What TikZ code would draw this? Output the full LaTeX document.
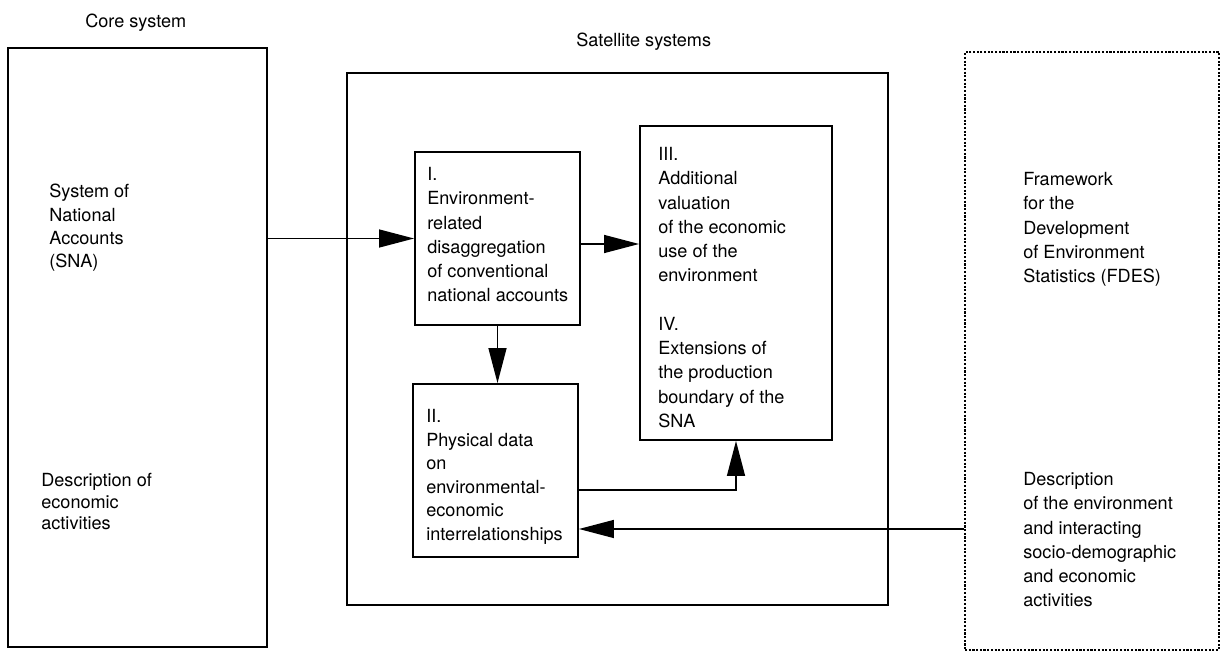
\documentclass[tikz,border=0pt]{standalone}
\usepackage{fontspec}
\setmainfont{TeX Gyre Heros}
\usetikzlibrary{arrows.meta,positioning}

\tikzset{
  box/.style={draw,line width=1.1pt,inner sep=0pt},
  dotbox/.style={draw,line width=0.9pt,dash pattern=on 1.2pt off 0.9pt,inner sep=0pt},
  lbl/.style={anchor=north west,inner sep=0pt,align=left,
    font=\fontsize{10.3}{13.8}\selectfont},
  arr/.style={-{Triangle[length=0.7cm,width=0.36cm]},line width=0.8pt}
}

\begin{document}
\begin{tikzpicture}[x=0.02cm,y=-0.02cm]
    \useasboundingbox (0,0) rectangle (1221,652);

    \node[box,minimum width=5.18cm,minimum height=11.98cm] (core) at (137.5,347.5) {};
    \node[box,minimum width=10.82cm,minimum height=10.64cm] (sat) at (617.5,339) {};
    \node[box,minimum width=3.30cm,minimum height=3.46cm] (I) at (497.5,238.5) {};
    \node[box,minimum width=3.84cm,minimum height=6.28cm] (III) at (736,283) {};
    \node[box,minimum width=3.30cm,minimum height=3.46cm] (II) at (495.5,470.5) {};
    \node[dotbox,minimum width=5.08cm,minimum height=11.96cm] (fdes) at (1092,351) {};

    \node[lbl] (coretitle) at (85,14) {Core system};
    \node[lbl] (sattitle) at (576,33) {Satellite systems};
    \node[lbl,font=\fontsize{10.3}{13.2}\selectfont] (snatext) at (49,184)
      {System of\\National\\Accounts\\(SNA)};
    \node[lbl,font=\fontsize{10.3}{12.2}\selectfont] (ecotext) at (41,473)
      {Description of\\economic\\activities};
    \node[lbl] (itext) at (427,167)
      {I.\\Environment-\\related\\disaggregation\\of conventional\\national accounts};
    \node[lbl] (iiitext) at (658,147)
      {III.\\Additional\\valuation\\of the economic\\use of the\\environment\\[13.8pt]
       IV.\\Extensions of\\the production\\boundary of the\\SNA};
    \node[lbl,font=\fontsize{10.3}{13.4}\selectfont] (iitext) at (426,409)
      {II.\\Physical data\\on\\environmental-\\economic\\interrelationships};
    \node[lbl] (fdestext) at (1023,172)
      {Framework\\for the\\Development\\of Environment\\Statistics (FDES)};
    \node[lbl] (envtext) at (1023,472)
      {Description\\of the environment\\and interacting\\socio-demographic\\and economic\\activities};

    \draw[arr] (core.east |- I.west) -- (I.west);
    \coordinate (ia) at ([yshift=-0.11cm]I.east);
    \draw[arr] (ia) -- (ia -| III.west);
    \draw[arr] (I.south) -- (I.south |- II.north);
    \draw[arr] ([yshift=-0.39cm]II.east) -| (III.south);
    \coordinate (iib) at ([yshift=-1.17cm]II.east);
    \draw[arr] (iib -| fdes.west) -- (iib);
\end{tikzpicture}
\end{document}
